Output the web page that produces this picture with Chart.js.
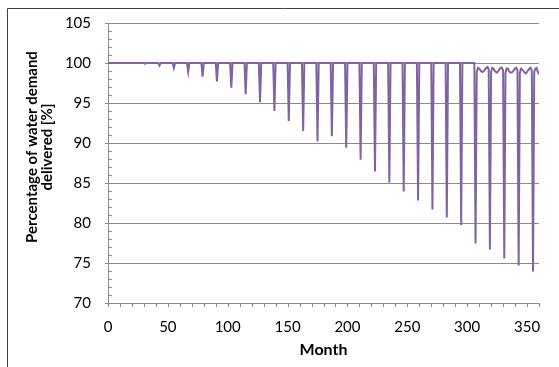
<!DOCTYPE html>
<html>
<head>
<meta charset="utf-8">
<script src="https://cdn.jsdelivr.net/npm/chart.js@4"></script>
<style>
  html, body { margin: 0; padding: 0; background: #fff; }
  #wrap { width: 559px; height: 367px; }
</style>
</head>
<body>
<div id="wrap"><canvas id="chart" width="559" height="367"></canvas></div>
<script>
// polyline vertices (flat 100% stretches between them)
const month = [
  0, 30, 31, 32, 42, 43, 44, 54, 55, 56, 66, 67, 68, 78, 79, 80,
  90, 91, 92, 102, 103, 104, 114, 115, 116, 126, 127, 128, 138, 139, 140,
  150, 151, 152, 162, 163, 164, 174, 175, 176, 186, 187, 188, 198, 199, 200,
  210, 211, 212, 222, 223, 224, 234, 235, 236, 246, 247, 248, 258, 259, 260,
  270, 271, 272, 282, 283, 284, 294, 295, 296, 306, 307,
  308, 309, 310, 311, 312, 313, 314, 315, 316, 317, 318, 319,
  320, 321, 322, 323, 324, 325, 326, 327, 328, 329, 330, 331,
  332, 333, 334, 335, 336, 337, 338, 339, 340, 341, 342, 343,
  344, 345, 346, 347, 348, 349, 350, 351, 352, 353, 354, 355,
  356, 357, 358, 359, 360
];
const delivered = [
  100, 100, 99.9, 100, 100, 99.7, 100, 100, 99.4, 100, 100, 98.9, 100, 100, 98.3, 100,
  100, 97.7, 100, 100, 96.9, 100, 100, 96.1, 100, 100, 95.1, 100, 100, 94.0, 100,
  100, 92.75, 100, 100, 91.5, 100, 100, 90.2, 100, 100, 90.85, 100, 100, 89.4, 100,
  100, 87.9, 100, 100, 86.45, 100, 100, 85.05, 100, 100, 83.95, 100, 100, 82.8, 100,
  100, 81.7, 100, 100, 80.7, 100, 100, 79.75, 100, 100, 77.45,
  98.9, 99.4, 99.3, 99.1, 98.9, 98.9, 99.0, 99.2, 99.4, 99.5, 99.2, 76.7,
  98.9, 99.4, 99.3, 99.0, 98.9, 98.8, 99.0, 99.2, 99.4, 99.4, 99.1, 75.55,
  98.8, 99.3, 99.3, 99.0, 98.8, 98.8, 98.9, 99.1, 99.3, 99.4, 99.1, 74.7,
  98.8, 99.3, 99.2, 99.0, 98.8, 98.7, 98.9, 99.1, 99.3, 99.4, 99.0, 73.95,
  98.9, 99.3, 99.4, 98.9, 98.6
];
const yTicks = [70, 75, 80, 85, 90, 95, 100, 105];
const xTicks = [0, 50, 100, 150, 200, 250, 300, 350];

const yTitleLines = ["Percentage of water demand", "delivered [%]"];
const xTitle = "Month";

const axisGray = "#8c8c8c";
const fontFamily = "Lato, 'Open Sans', sans-serif";

// minor ticks, titles and the outer frame
const extrasPlugin = {
  id: "extras",
  afterDraw(chart) {
    const { ctx, scales: { x, y }, chartArea } = chart;
    ctx.save();
    ctx.strokeStyle = axisGray;
    ctx.lineWidth = 1;
    ctx.beginPath();
    for (let v = 0; v <= 360; v += 10) {
      const px = Math.round(x.getPixelForValue(v)) + 0.5;
      ctx.moveTo(px, chartArea.bottom);
      ctx.lineTo(px, chartArea.bottom + 4);
    }
    for (let v = 70; v <= 105; v += 1) {
      if (v % 5 === 0) continue;
      const py = Math.round(y.getPixelForValue(v)) + 0.5;
      ctx.moveTo(chartArea.left, py);
      ctx.lineTo(chartArea.left + 4, py);
    }
    ctx.stroke();

    ctx.fillStyle = "#000";
    ctx.textAlign = "center";
    ctx.textBaseline = "middle";
    ctx.font = `bold 16px ${fontFamily}`;
    ctx.fillText(xTitle, (chartArea.left + chartArea.right) / 2, 350);

    ctx.font = `bold 15px ${fontFamily}`;
    ctx.translate(39, 147);
    ctx.rotate(-Math.PI / 2);
    ctx.fillText(yTitleLines[0], 0, -7);
    ctx.fillText(yTitleLines[1], 0, 8);
    ctx.restore();

    ctx.save();
    ctx.strokeStyle = "#404040";
    ctx.lineWidth = 1;
    ctx.beginPath();
    ctx.moveTo(7.5, 367);
    ctx.lineTo(7.5, 8.5);
    ctx.lineTo(559, 8.5);
    ctx.stroke();
    ctx.restore();
  }
};

const chart = new Chart(document.getElementById("chart"), {
  type: "line",
  data: {
    datasets: [{
      data: month.map((m, i) => ({ x: m, y: delivered[i] })),
      borderColor: "#8064a2",
      borderWidth: 2,
      pointRadius: 0,
      tension: 0,
      fill: false,
    }],
  },
  options: {
    responsive: false,
    animation: false,
    layout: { padding: { top: 23, right: 20, left: 0, bottom: 0 } },
    plugins: { legend: { display: false }, tooltip: { enabled: false } },
    scales: {
      x: {
        type: "linear",
        min: 0,
        max: 360,
        afterBuildTicks: (s) => { s.ticks = xTicks.map((v) => ({ value: v })); },
        afterFit: (s) => { s.height = 64; },
        grid: { display: false, drawTicks: false, tickLength: 0 },
        border: { display: true, color: axisGray, width: 1 },
        ticks: { color: "#000", padding: 15, maxRotation: 0, font: { family: fontFamily, size: 15 } },
      },
      y: {
        min: 70,
        max: 105,
        afterBuildTicks: (s) => { s.ticks = yTicks.map((v) => ({ value: v })); },
        afterFit: (s) => { s.width = 108; },
        grid: { color: axisGray, tickLength: 3, drawTicks: true },
        border: { display: true, color: axisGray, width: 1 },
        ticks: { color: "#000", padding: 14, font: { family: fontFamily, size: 15 } },
      },
    },
  },
  plugins: [extrasPlugin],
});
</script>
</body>
</html>
